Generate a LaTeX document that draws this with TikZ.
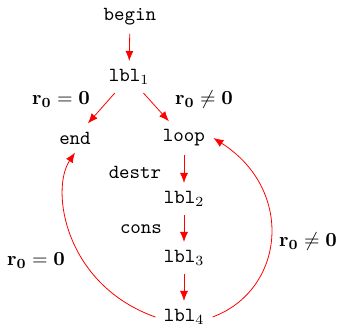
\documentclass[tikz,border=0pt]{standalone}
\usetikzlibrary{arrows.meta}
\begin{document}
\begin{tikzpicture}[x=0.5pt,y=-0.5pt,
  lab/.style={font=\ttfamily, inner sep=4pt},
  cond/.style={inner sep=1pt},
  flow/.style={red, -{Latex[length=5pt,width=4pt]}}]
\useasboundingbox (0,0) rectangle (339,331);
\node[lab] (begin) at (130,17) {begin};
\node[lab] (l1) at (129,77) {lbl$_1$};
\node[lab] (end) at (75,138) {end};
\node[lab] (loop) at (184,138) {loop};
\node[lab] (l2) at (184,199) {lbl$_2$};
\node[lab] (l3) at (184,258) {lbl$_3$};
\node[lab] (l4) at (184,317) {lbl$_4$};
\node[font=\ttfamily] (destr) at (135,172) {destr};
\node[font=\ttfamily] (cons) at (141,229) {cons};
\node[cond] (c1) at (61,100) {$\mathbf{r_0=0}$};
\node[cond] (c2) at (204,100) {$\mathbf{r_0\neq 0}$};
\node[cond] (c3) at (36,261) {$\mathbf{r_0=0}$};
\node[cond] (c4) at (308,242) {$\mathbf{r_0\neq 0}$};
\draw[flow] (begin) -- (l1);
\draw[flow] (l1) -- (end);
\draw[flow] (l1) -- (loop);
\draw[flow] (loop) -- (l2);
\draw[flow] (l2) -- (l3);
\draw[flow] (l3) -- (l4);
\draw[flow] (l4.west) .. controls (65,285) and (50,190) .. (end.south);
\draw[flow] (l4.east) .. controls (285,290) and (295,190) .. (loop.east);
\end{tikzpicture}
\end{document}
